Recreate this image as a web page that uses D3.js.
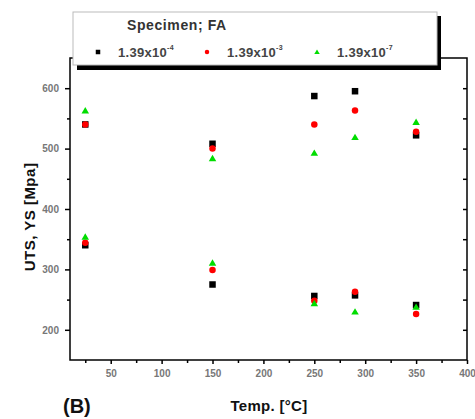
<!DOCTYPE html>
<html><head><meta charset="utf-8">
<script src="https://cdn.jsdelivr.net/npm/d3@7"></script>
<style>body{margin:0;background:#fff;}svg{display:block;font-family:Arial, "Liberation Sans", sans-serif;}</style>
</head><body><svg id="c" width="475" height="419"></svg>
<script>
const temps = [25, 150, 250, 290, 350];
const seriesNames = ["1.39x10", "1.39x10", "1.39x10"];
const seriesExp = ["-4", "-3", "-7"];
const seriesColors = ["#000000", "#ff0000", "#00dd00"];
const seriesShapes = ["square", "circle", "triangle"];
const utsA = [540, 508, 587, 595, 522];
const utsB = [540, 500, 540, 563, 528];
const utsC = [563, 484, 493, 519, 544];
const ysA = [340, 275, 256, 257, 241];
const ysB = [344, 299, 248, 263, 226];
const ysC = [354, 311, 244, 230, 238];
const xTicks = [50, 100, 150, 200, 250, 300, 350, 400];
const yTicks = [200, 300, 400, 500, 600];

const svg = d3.select("#c");
const L = 70, R = 467, T = 58, B = 360;
const x = d3.scaleLinear().domain([10, 400]).range([L, R]);
const y = d3.scaleLinear().domain([150, 650]).range([B, T]);

svg.append("rect").attr("x", L).attr("y", T).attr("width", R - L).attr("height", B - T)
  .attr("fill", "none").attr("stroke", "#000").attr("stroke-width", 1.5);

const gx = svg.append("g").attr("transform", `translate(0,${B})`)
  .call(d3.axisBottom(x).tickValues(xTicks).tickSize(4).tickFormat(d3.format("d")));
const gxm = svg.append("g").attr("transform", `translate(0,${B})`)
  .call(d3.axisBottom(x).tickValues(d3.range(25, 400, 50)).tickSize(3).tickFormat(""));
const gy = svg.append("g").attr("transform", `translate(${L},0)`)
  .call(d3.axisLeft(y).tickValues(yTicks).tickSize(5).tickFormat(d3.format("d")));
const gym = svg.append("g").attr("transform", `translate(${L},0)`)
  .call(d3.axisLeft(y).tickValues(d3.range(250, 650, 100)).tickSize(3).tickFormat(""));
const gyr = svg.append("g").attr("transform", `translate(${R},0)`)
  .call(d3.axisLeft(y).tickValues(d3.range(200, 650, 50)).tickSize(4).tickFormat(""));
[gx, gxm, gy, gym, gyr].forEach(g => {
  g.select(".domain").remove();
  g.selectAll(".tick line").attr("stroke", "#000").attr("stroke-width", 1.5);
  g.selectAll("text").attr("font-size", 10).attr("fill", "#777").attr("font-weight", "bold");
});
gx.selectAll("text").attr("dy", "1.0em");
gy.selectAll("text").attr("dx", "-0.3em");

function drawMarker(g, shape, color, cx, cy, s) {
  if (shape === "square") {
    g.append("rect").attr("x", cx - s/2).attr("y", cy - s/2).attr("width", s).attr("height", s).attr("fill", color);
  } else if (shape === "circle") {
    g.append("circle").attr("cx", cx).attr("cy", cy).attr("r", s/2).attr("fill", color);
  } else {
    const h = s * 0.9;
    g.append("path").attr("d", `M${cx},${cy - h/2 - 0.5}L${cx + s/2 + 0.5},${cy + h/2}L${cx - s/2 - 0.5},${cy + h/2}Z`).attr("fill", color);
  }
}
const allSeries = [[utsA, ysA], [utsB, ysB], [utsC, ysC]];
const pg = svg.append("g");
allSeries.forEach((pair, i) => {
  pair.forEach(vals => {
    vals.forEach((v, j) => drawMarker(pg, seriesShapes[i], seriesColors[i], x(temps[j]), y(v), 6.5));
  });
});

const lg = svg.append("g");
lg.append("rect").attr("x", 77).attr("y", 16).attr("width", 364).attr("height", 54).attr("fill", "#000");
lg.append("rect").attr("x", 73).attr("y", 12).attr("width", 364).attr("height", 53)
  .attr("fill", "#fff").attr("stroke", "#bbb").attr("stroke-width", 1);
lg.append("text").attr("x", 127).attr("y", 30).attr("font-size", 14).attr("font-weight", "bold")
  .attr("fill", "#333").attr("letter-spacing", 0.6).text("Specimen; FA");
const legX = [98, 207, 317];
seriesNames.forEach((n, i) => {
  drawMarker(lg, seriesShapes[i], seriesColors[i], legX[i], 52, 4.5);
  const t = lg.append("text").attr("x", legX[i] + 20).attr("y", 57).attr("font-size", 13)
    .attr("font-weight", "bold").attr("fill", "#444").attr("letter-spacing", 0.3);
  t.append("tspan").text(n);
  t.append("tspan").attr("dy", -7).attr("font-size", 7).text(seriesExp[i]);
});

svg.append("text").attr("transform", "translate(35,217) rotate(-90)").attr("text-anchor", "middle")
  .attr("font-size", 15).attr("font-weight", "bold").attr("fill", "#111").attr("letter-spacing", 0.5).text("UTS, YS [Mpa]");
svg.append("text").attr("x", 269).attr("y", 411).attr("text-anchor", "middle")
  .attr("font-size", 15).attr("font-weight", "bold").attr("fill", "#111").attr("letter-spacing", 0.3).text("Temp. [°C]");
svg.append("text").attr("x", 63).attr("y", 413).attr("font-size", 20)
  .attr("font-weight", "bold").attr("fill", "#111").text("(B)");
</script></body></html>
